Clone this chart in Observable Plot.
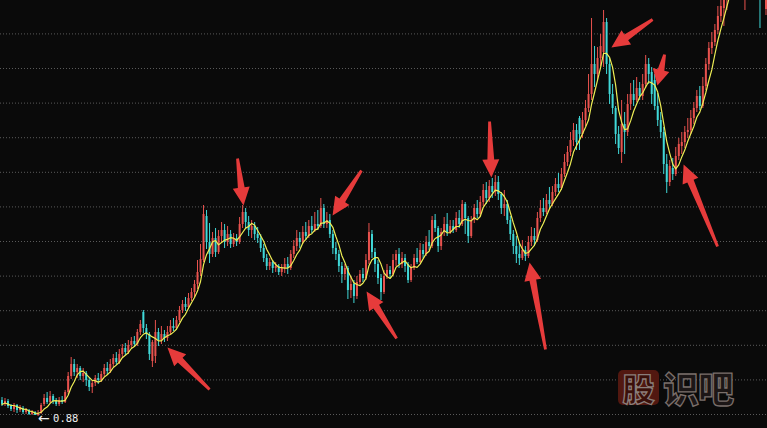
<!DOCTYPE html>
<html><head><meta charset="utf-8">
<script src="https://cdn.jsdelivr.net/npm/d3@7"></script>
<script src="https://cdn.jsdelivr.net/npm/@observablehq/plot@0.6"></script>
<style>
html,body{margin:0;padding:0;background:#0a0a0a;}
#wrap{position:relative;width:767px;height:428px;overflow:hidden;}
#wm{position:absolute;left:618px;top:369px;display:flex;align-items:center;font-family:"Noto Sans CJK SC";font-weight:900;line-height:1;}
#wm .box{width:41px;height:35px;background:#521810;border-radius:5px;display:flex;align-items:center;justify-content:center;font-size:32px;color:#3a100a;-webkit-text-stroke:1.3px #8a7e7a;}
#wm .rest{margin-left:4px;font-size:36px;color:#1c1616;-webkit-text-stroke:1.3px #7a6f6b;letter-spacing:-1px;}
</style></head><body>
<div id="wrap"><div id="wm"><span class="box">股</span><span class="rest">识吧</span></div></div>
<script>
// Prices in hundredths (fen): 88 = 0.88
const open = [
104,100,103,98,95,99,94,96,92,94,90,92,89,91,100,106,102,108,103,100,
104,102,112,128,140,132,136,128,131,124,117,121,126,124,130,136,133,140,146,142,
150,156,152,159,163,160,172,192,176,170,143,148,172,164,170,166,172,178,176,184,
194,200,197,206,212,220,232,244,288,262,250,266,252,268,274,262,270,260,266,262,
280,292,282,274,278,270,266,256,246,238,242,236,238,232,236,240,236,250,258,266,
262,272,268,278,274,280,278,296,280,284,270,256,250,238,230,236,214,220,208,222,
230,226,244,270,252,240,226,212,228,234,230,244,250,240,246,240,224,236,246,242,
254,250,262,258,284,276,258,272,280,272,278,274,286,280,300,286,268,284,296,290,
302,314,306,318,312,322,310,296,300,284,270,258,250,246,254,248,262,268,264,286,
296,292,304,300,312,320,316,330,342,352,364,374,386,370,384,396,410,440,430,446,
452,482,440,410,396,370,352,380,372,400,410,404,416,408,420,440,432,424,398,384,
372,340,322,336,330,348,358,362,372,374,386,396,408,398,418,440,456,462,474,488,
496,510,520,530,536,544,550,546,556,560,566,558,562,540,495];
const close = [
100,103,98,95,99,94,97,92,94,90,92,89,91,99,106,102,108,103,100,104,
102,112,128,140,132,136,128,131,124,117,121,126,124,130,136,133,140,146,142,150,
156,152,159,163,160,172,180,176,170,150,162,172,164,170,166,172,178,176,184,194,
200,197,206,212,220,232,245,290,262,250,266,252,268,274,262,270,260,266,262,280,
292,282,274,278,270,266,256,246,238,242,236,238,232,236,240,236,250,258,266,262,
272,268,278,274,280,278,296,280,284,270,256,250,238,230,236,214,220,208,222,230,
226,244,272,252,240,226,212,228,234,230,244,250,240,246,238,224,236,246,242,254,
250,262,258,284,276,258,272,280,272,278,274,286,280,300,286,268,284,296,290,302,
314,306,318,312,322,310,296,300,284,270,258,250,246,254,248,262,268,264,286,296,
292,304,300,312,320,316,330,342,352,364,374,362,370,384,396,410,440,430,446,458,
482,440,410,396,370,356,380,372,400,410,404,416,408,420,440,430,410,398,384,372,
340,322,338,330,348,360,362,372,374,386,396,408,398,418,440,456,462,474,488,498,
510,520,530,536,544,550,546,556,560,566,558,562,540,552,540];
const high = [
107,106,105,100,101,100,99,98,96,95,94,93,94,101,110,112,113,110,106,107,
108,114,132,147,145,140,138,136,133,127,124,129,131,133,140,142,145,150,152,155,
160,161,164,167,168,175,184,194,180,172,164,184,176,178,174,178,184,186,188,198,
204,207,211,216,224,244,260,299,294,281,272,276,274,282,280,278,274,271,270,287,
299,296,288,284,282,277,270,260,250,246,244,242,240,240,246,247,254,264,274,272,
278,282,284,288,292,294,306,300,292,290,274,262,254,242,240,238,228,224,228,234,
236,250,281,274,256,244,230,234,240,238,250,254,256,252,250,242,240,250,256,261,
260,268,274,288,290,278,276,287,291,284,284,292,294,304,302,288,288,300,304,308,
320,322,324,326,329,328,312,314,304,288,274,268,262,264,258,268,277,276,292,304,
306,310,317,318,326,331,336,350,358,372,381,380,388,392,404,430,486,458,457,470,
494,486,446,420,398,378,404,392,410,421,424,427,422,430,449,446,437,430,411,392,
377,350,344,346,357,366,372,378,386,394,402,414,418,427,446,462,472,480,498,508,
520,528,540,546,552,560,562,566,570,576,580,574,568,566,556];
const low = [
98,98,96,93,92,91,92,90,90,89,89,89,88,90,98,100,101,100,98,98,
100,101,110,125,128,126,124,122,118,113,111,118,120,122,127,129,131,137,139,140,
147,149,150,156,157,158,169,171,165,144,137,141,158,160,162,163,170,173,174,182,
191,193,195,203,207,215,228,242,255,241,247,247,250,262,256,258,256,257,258,260,
276,276,268,266,264,261,252,242,234,234,231,232,229,228,231,230,234,246,253,256,
260,264,266,271,272,274,276,276,276,266,250,244,232,221,224,205,206,201,205,218,
222,224,240,246,232,220,204,210,225,226,228,238,236,236,232,221,222,234,240,241,
246,248,254,256,272,252,254,268,268,270,271,272,276,278,270,261,266,281,286,288,
298,300,302,306,308,304,290,288,280,264,250,241,239,244,243,246,258,258,262,282,
288,290,296,298,308,312,314,327,338,348,358,354,354,366,378,392,404,417,424,438,
437,430,400,390,360,350,341,350,368,394,398,402,404,404,416,420,400,394,378,366,
330,311,318,324,328,344,350,356,366,370,380,392,394,396,414,434,450,458,470,482,
478,494,505,518,524,532,536,494,510,550,546,540,476,530,489];

// horizontal grid levels (same price units)
const gridLevels = [90, 124.6, 159.2, 193.8, 228.4, 263, 297.6, 332.2, 366.8, 401.4, 436, 470.6];

// red annotation arrows: tail -> tip, in (candle index, price)
const arrowTailIdx = [69.0, 78.3, 119.5, 131.2, 162.1, 180.7, 216.3, 220.3, 237.9];
const arrowTailVal = [115, 346, 334, 166, 383, 155, 485, 450, 258];
const arrowTipIdx  = [55.0, 80.3, 109.9, 121.2, 162.7, 175.4, 202.6, 217.9, 226.6];
const arrowTipVal  = [157, 299, 289, 213, 327, 242, 457, 419, 340];

const W = 767, H = 428, N = close.length;
const xDomain = [-0.5, N - 0.5], yDomain = [76, 504];
const UP = "#e8524e", DOWN = "#40d8d8", FLAT = "#dddddd";

const candles = d3.range(N).map(i => ({i, open: open[i], high: high[i], low: low[i], close: close[i]}));
const col = d => d.close > d.open ? UP : d.close < d.open ? DOWN : FLAT;

const xs = d3.scaleLinear(xDomain, [0, W]);
const ys = d3.scaleLinear(yDomain, [H, 0]);
const arrows = arrowTailIdx.map((ti, k) => {
  const dx = xs(arrowTipIdx[k]) - xs(ti), dy = ys(arrowTipVal[k]) - ys(arrowTailVal[k]);
  return {ti, tv: arrowTailVal[k], len: Math.hypot(dx, dy), rot: Math.atan2(dx, -dy) * 180 / Math.PI};
});
const arrowShape = {
  draw(ctx, l) {
    const hl = Math.min(18, l * 0.5), hw = 8.5, s0 = 1.4, s1 = 3.4, b = -(l - hl);
    ctx.moveTo(-s0, 0); ctx.lineTo(-s1, b); ctx.lineTo(-hw, b); ctx.lineTo(0, -l);
    ctx.lineTo(hw, b); ctx.lineTo(s1, b); ctx.lineTo(s0, 0); ctx.closePath();
  }
};

const lowest = d3.least(candles, d => d.low);

const chart = Plot.plot({
  width: W, height: H, margin: 0,
  style: {background: "#0a0a0a", color: "#ddd", overflow: "hidden"},
  x: {domain: xDomain, range: [0, W], axis: null},
  y: {domain: yDomain, range: [H, 0], axis: null},
  length: {type: "linear", domain: [0, 100], range: [0, 100]},
  marks: [
    Plot.ruleY(gridLevels, {stroke: "#5a5a5a", strokeDasharray: "1,2"}),
    Plot.ruleX(candles, {x: "i", y1: "low", y2: "high", stroke: col, strokeWidth: 1}),
    Plot.ruleX(candles, {x: "i", y1: "open", y2: "close", stroke: col, strokeWidth: 2}),
    Plot.lineY(candles, Plot.windowY({k: 5, anchor: "end"}, {x: "i", y: "close", stroke: "#eeee55", strokeWidth: 1.2})),
    Plot.text([lowest], {x: "i", y: "low", text: () => "←", textAnchor: "start", lineAnchor: "middle", dx: 0, dy: 2, fill: "#eeeeee", fontSize: 14, fontFamily: "DejaVu Sans"}),
    Plot.text([lowest], {x: "i", y: "low", text: d => (d.low / 100).toFixed(2), textAnchor: "start", lineAnchor: "middle", dx: 15, dy: 2, fill: "#eeeeee", fontSize: 10.5, fontFamily: "DejaVu Sans Mono"}),
    Plot.vector(arrows, {x: "ti", y: "tv", length: "len", rotate: "rot", anchor: "start", shape: arrowShape, fill: "#e63b3b", stroke: "none"})
  ]
});
document.getElementById("wrap").prepend(chart);
</script>
</body></html>
